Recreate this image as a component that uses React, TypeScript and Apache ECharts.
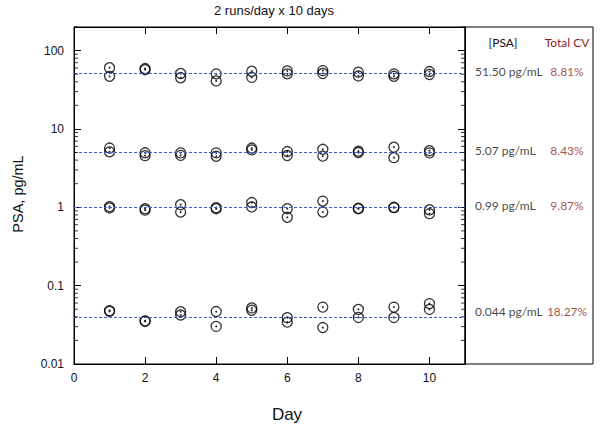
import React, { useEffect, useRef } from "react";
import * as echarts from "echarts";

const days = [1, 2, 3, 4, 5, 6, 7, 8, 9, 10];
const level1RunA = [60.5, 59, 51, 50.5, 54.5, 55, 55.5, 53, 50.5, 54];
const level1RunB = [46.9, 57, 45, 41, 45.5, 50.5, 51, 47.5, 47, 49.5];
const level2RunA = [5.7, 4.96, 4.95, 4.95, 5.7, 5.15, 5.5, 5.2, 5.85, 5.28];
const level2RunB = [5.1, 4.56, 4.6, 4.48, 5.4, 4.58, 4.5, 5.0, 4.3, 4.95];
const level3RunA = [1.02, 0.96, 1.08, 0.99, 1.15, 0.96, 1.2, 0.97, 1.0, 0.93];
const level3RunB = [0.98, 0.92, 0.87, 0.96, 1.01, 0.745, 0.87, 0.96, 0.99, 0.83];
const level4RunA = [0.048, 0.0355, 0.0465, 0.0467, 0.052, 0.039, 0.0532, 0.0497, 0.0532, 0.059];
const level4RunB = [0.047, 0.035, 0.0422, 0.0302, 0.0485, 0.0342, 0.0292, 0.0393, 0.0393, 0.0497];

const psaMeans = [51.5, 5.07, 0.99, 0.044];
const psaLabels = ["51.50 pg/mL", "5.07 pg/mL", "0.99 pg/mL", "0.044 pg/mL"];
const cvLabels = ["8.81%", "8.43%", "9.87%", "18.27%"];

const yMajorTicks = ["0.01", "0.1", "1", "10", "100"];
const minorMultipliers = [2, 3, 4, 5, 6, 7, 8, 9];
const decades = [0.01, 0.1, 1, 10, 100];
const yMinorTicks: number[] = [];
decades.forEach((d) => minorMultipliers.forEach((m) => {
  const v = +(d * m).toPrecision(3);
  if (v <= 200) yMinorTicks.push(v);
}));

const allRuns = [level1RunA, level1RunB, level2RunA, level2RunB, level3RunA, level3RunB, level4RunA, level4RunB];

export default function App() {
  const ref = useRef<HTMLDivElement>(null);
  useEffect(() => {
    if (!ref.current) return;
    const chart = echarts.init(ref.current, null, { renderer: "svg" });
    const points: number[][] = [];
    allRuns.forEach((run) => days.forEach((d, i) => points.push([d, run[i]])));

    const axisFont = { fontFamily: "Liberation Sans", fontSize: 12, color: "#111" };
    const panelFont = "Lato";

    const logAxisBase = {
      type: "log" as const,
      gridIndex: 0,
      min: 0.01,
      max: 200,
      logBase: 10,
      splitLine: { show: false },
    };

    chart.setOption({
      animation: false,
      backgroundColor: "#fff",
      grid: [
        { left: 74, top: 27, width: 391, height: 337, show: true, borderColor: "#000", borderWidth: 1, backgroundColor: "transparent" },
        { left: 465, top: 27, width: 128, height: 337, show: true, borderColor: "#000", borderWidth: 1, backgroundColor: "transparent" },
      ],
      xAxis: [
        {
          type: "value", gridIndex: 0, min: 0, max: 11, interval: 2, position: "bottom",
          axisLine: { show: true, onZero: false, lineStyle: { color: "#000", width: 1 } },
          axisTick: { show: true, inside: true, length: 7, lineStyle: { color: "#000", width: 1 } },
          axisLabel: { ...axisFont, margin: 8, showMaxLabel: false },
          splitLine: { show: false },
        },
        {
          type: "value", gridIndex: 0, min: 0, max: 11, interval: 2, position: "top",
          axisLine: { show: true, onZero: false, lineStyle: { color: "#000", width: 1 } },
          axisTick: { show: true, inside: true, length: 7, lineStyle: { color: "#000", width: 1 } },
          axisLabel: { show: false },
          splitLine: { show: false },
        },
        { type: "value", gridIndex: 1, min: 0, max: 1, show: false },
      ],
      yAxis: [
        {
          ...logAxisBase, position: "left",
          axisLine: { show: true, onZero: false, lineStyle: { color: "#000" } },
          axisTick: { show: true, inside: true, length: 7, lineStyle: { color: "#000", width: 1 } },
          axisLabel: {
            ...axisFont, margin: 10, showMaxLabel: false,
            formatter: (v: number) => {
              const s = String(+v.toPrecision(3));
              return yMajorTicks.includes(s) ? s : "";
            },
          },
        },
        {
          ...logAxisBase, position: "right",
          axisLine: { show: true, onZero: false, lineStyle: { color: "#000" } },
          axisTick: { show: true, inside: true, length: 7, lineStyle: { color: "#000", width: 1 } },
          axisLabel: { show: false },
        },
        { type: "log", gridIndex: 1, min: 0.01, max: 200, show: false },
      ],
      series: [
        {
          type: "scatter", xAxisIndex: 0, yAxisIndex: 0, data: points,
          symbol: "circle", symbolSize: 10,
          itemStyle: { color: "rgba(0,0,0,0)", borderColor: "#000", borderWidth: 1.3 },
          z: 3,
          markLine: {
            silent: true, symbol: "none", label: { show: false },
            lineStyle: { color: "#4060d0", type: [3, 2], width: 1, opacity: 1 },
            emphasis: { disabled: true },
            data: psaMeans.map((v) => ({ yAxis: v })),
          },
        },
        {
          type: "scatter", xAxisIndex: 0, yAxisIndex: 0, data: points,
          symbol: "circle", symbolSize: 2, itemStyle: { color: "#000" }, z: 4,
        },
        {
          type: "scatter", xAxisIndex: 0, yAxisIndex: 0, silent: true, clip: false,
          data: yMinorTicks.map((v) => [0, v]),
          symbol: "rect", symbolSize: [4, 1], symbolOffset: [2, 0],
          itemStyle: { color: "#000" }, z: 5,
        },
        {
          type: "scatter", xAxisIndex: 0, yAxisIndex: 0, silent: true, clip: false,
          data: yMinorTicks.map((v) => [11, v]),
          symbol: "rect", symbolSize: [4, 1], symbolOffset: [-2, 0],
          itemStyle: { color: "#000" }, z: 5,
        },
        {
          type: "scatter", xAxisIndex: 2, yAxisIndex: 2,
          data: psaMeans.map((v, i) => ({ value: [0.078, v], name: psaLabels[i] })),
          symbolSize: 1, itemStyle: { color: "rgba(0,0,0,0)" },
          label: {
            show: true, position: "inside", align: "left", verticalAlign: "middle", offset: [0, -2],
            formatter: (p: any) => p.name, fontFamily: panelFont, fontSize: 12, color: "#111",
          },
        },
        {
          type: "scatter", xAxisIndex: 2, yAxisIndex: 2,
          data: psaMeans.map((v, i) => ({ value: [0.797, v], name: cvLabels[i] })),
          symbolSize: 1, itemStyle: { color: "rgba(0,0,0,0)" },
          label: {
            show: true, position: "inside", align: "center", verticalAlign: "middle", offset: [0, -2],
            formatter: (p: any) => p.name, fontFamily: panelFont, fontSize: 12, color: "#8c1c1c",
          },
        },
      ],
      graphic: [
        { type: "text", x: 274, y: 10, style: { text: "2 runs/day x 10 days", fontFamily: "Liberation Sans", fontSize: 13, fill: "#111", align: "center", verticalAlign: "middle" } },
        { type: "text", x: 287, y: 414, style: { text: "Day", fontFamily: "Liberation Sans", fontSize: 17, fill: "#111", align: "center", verticalAlign: "middle" } },
        { type: "text", x: 18, y: 194, rotation: Math.PI / 2, style: { text: "PSA, pg/mL", fontFamily: "Liberation Sans", fontSize: 14.5, fill: "#111", align: "center", verticalAlign: "middle" } },
        { type: "text", x: 503, y: 42, style: { text: "[PSA]", fontFamily: panelFont, fontSize: 12, fill: "#111", align: "center", verticalAlign: "middle" } },
        { type: "text", x: 567, y: 42, style: { text: "Total CV", fontFamily: panelFont, fontSize: 12, fill: "#8c1c1c", align: "center", verticalAlign: "middle" } },
      ],
    });
    return () => chart.dispose();
  }, []);
  return <div ref={ref} style={{ position: "fixed", left: 0, top: 0, width: 600, height: 429 }} />;
}
